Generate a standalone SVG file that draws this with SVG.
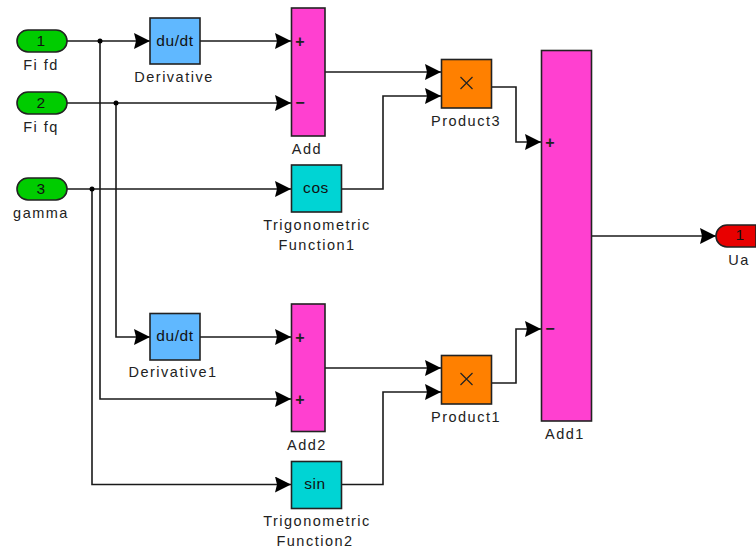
<svg xmlns="http://www.w3.org/2000/svg" width="756" height="548" viewBox="0 0 756 548">
<style>
.b{stroke:#222;stroke-width:1.6}
.w{fill:none;stroke:#1a1a1a;stroke-width:1.6}
.t{font-family:"Liberation Sans",Arial,sans-serif;font-size:14.500px;fill:#222;text-anchor:middle;letter-spacing:1.500px}
.i{font-family:"Liberation Sans",Arial,sans-serif;font-size:15.500px;fill:#111;text-anchor:middle;letter-spacing:.6px}
.s{font-family:"Liberation Sans",Arial,sans-serif;font-size:16px;font-weight:bold;fill:#222;text-anchor:middle}
.in{fill:#00cc00}.sum{fill:#ff40d0}.der{fill:#60b8ff}.trig{fill:#00d4d4}.prod{fill:#ff8000}
</style>
<defs>
<marker id="a" markerUnits="userSpaceOnUse" markerWidth="16" markerHeight="16" refX="16" refY="8" orient="auto"><path d="M0 0L16 8L0 16L2 8Z" fill="#000"/></marker>
</defs>
<g id="connectors" class="w">
<path d="M67 41H150" marker-end="url(#a)"/>
<path d="M200 41H291" marker-end="url(#a)"/>
<path d="M67 103H291" marker-end="url(#a)"/>
<path d="M67 189H291" marker-end="url(#a)"/>
<path d="M116 103V337H150" marker-end="url(#a)"/>
<path d="M200 337H291" marker-end="url(#a)"/>
<path d="M100 41V399H291" marker-end="url(#a)"/>
<path d="M92 189V484.500H291" marker-end="url(#a)"/>
<path d="M325 72H441" marker-end="url(#a)"/>
<path d="M341 189H383V96H441" marker-end="url(#a)"/>
<path d="M325 368H441" marker-end="url(#a)"/>
<path d="M341 484.500H383V392H441" marker-end="url(#a)"/>
<path d="M491 87H516V142H541" marker-end="url(#a)"/>
<path d="M491 383H516V329H541" marker-end="url(#a)"/>
<path d="M591 236H716" marker-end="url(#a)"/>
<circle cx="100" cy="41" r="2.500" fill="#000" stroke="none"/>
<circle cx="116" cy="103" r="2.500" fill="#000" stroke="none"/>
<circle cx="92" cy="189" r="2.500" fill="#000" stroke="none"/>
</g>
<g id="Fi_fd"><rect x="17" y="30" width="50" height="22" rx="11" class="b in"/><text x="41" y="45.500" class="i">1</text><text x="41" y="70" class="t">Fi fd</text></g>
<g id="Fi_fq"><rect x="17" y="92" width="50" height="22" rx="11" class="b in"/><text x="41" y="107.500" class="i">2</text><text x="41" y="132" class="t">Fi fq</text></g>
<g id="gamma"><rect x="17" y="178" width="50" height="22" rx="11" class="b in"/><text x="41" y="193.500" class="i">3</text><text x="41" y="218" class="t">gamma</text></g>
<g id="Derivative"><rect x="150" y="18" width="50" height="46" class="b der"/><text x="175" y="46" class="i">du/dt</text><text x="174" y="82" class="t">Derivative</text></g>
<g id="Add"><rect x="291.500" y="8" width="33.500" height="128" class="b sum"/><text x="300" y="46.500" class="s">+</text><text x="300" y="108" class="s">−</text><text x="307" y="154" class="t">Add</text></g>
<g id="TrigonometricFunction1"><rect x="291.500" y="165" width="50" height="47" class="b trig"/><text x="316" y="193" class="i">cos</text><text x="317" y="230" class="t">Trigonometric</text><text x="317" y="250" class="t">Function1</text></g>
<g id="Product3"><rect x="441.500" y="59.500" width="50" height="48.500" class="b prod"/><path d="M460.500 77L472.500 89M472.500 77L460.500 89" fill="none" stroke="#222" stroke-width="1.200"/><text x="466" y="126" class="t">Product3</text></g>
<g id="Add1"><rect x="541.500" y="50.500" width="50" height="370.500" class="b sum"/><text x="550" y="147.500" class="s">+</text><text x="550" y="334" class="s">−</text><text x="565" y="439" class="t">Add1</text></g>
<g id="Ua"><path d="M756 225H727A11 11 0 0 0 727 247H756Z" fill="#e80000" stroke="#222" stroke-width="1.600"/><text x="740" y="240" class="i">1</text><text x="739" y="265" class="t">Ua</text></g>
<g id="Derivative1"><rect x="150" y="313.500" width="50" height="46.500" class="b der"/><text x="175" y="341" class="i">du/dt</text><text x="173" y="377" class="t">Derivative1</text></g>
<g id="Add2"><rect x="291.500" y="304" width="33.500" height="127.500" class="b sum"/><text x="300" y="342.500" class="s">+</text><text x="300" y="404.500" class="s">+</text><text x="307" y="450" class="t">Add2</text></g>
<g id="TrigonometricFunction2"><rect x="291.500" y="461.500" width="50" height="47" class="b trig"/><text x="315" y="489" class="i">sin</text><text x="317" y="526" class="t">Trigonometric</text><text x="315" y="546" class="t">Function2</text></g>
<g id="Product1"><rect x="441.500" y="355.500" width="50" height="48.500" class="b prod"/><path d="M460.500 373L472.500 385M472.500 373L460.500 385" fill="none" stroke="#222" stroke-width="1.200"/><text x="466" y="422" class="t">Product1</text></g>
</svg>
